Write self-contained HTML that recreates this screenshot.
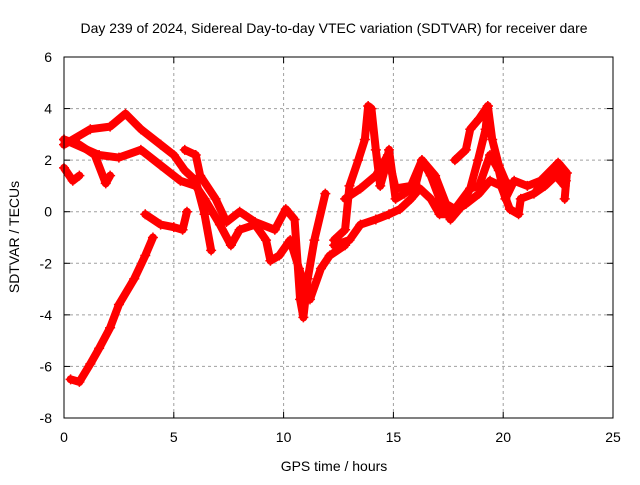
<!DOCTYPE html>
<html><head><meta charset="utf-8"><style>
body{margin:0;background:#fff}
svg text{font-family:"Liberation Sans",sans-serif;font-size:14px;fill:#000}
</style></head><body>
<svg id="chart" width="640" height="480" xmlns="http://www.w3.org/2000/svg">
<rect width="640" height="480" fill="#fff"/>
<text x="334" y="33" text-anchor="middle">Day 239 of 2024, Sidereal Day-to-day VTEC variation (SDTVAR) for receiver dare</text>
<text x="334" y="471" text-anchor="middle">GPS time / hours</text>
<text transform="translate(19,237) rotate(-90)" text-anchor="middle">SDTVAR / TECUs</text>
<g id="grid"></g><g id="series"></g><g id="ticks"></g>
<rect x="64" y="57" width="549" height="361" fill="none" stroke="#000" stroke-width="1"/>
</svg>
<script>
const xTicks=[0,5,10,15,20,25];
const yTicks=[-8,-6,-4,-2,0,2,4,6];
const trackA=[[0.3,-6.5],[0.7,-6.6],[1.2,-5.9],[1.6,-5.3],[2.1,-4.5],[2.5,-3.6],[3.2,-2.6],[3.7,-1.7],[4.05,-1.0]];
const trackB=[[3.7,-0.1],[4.4,-0.5],[5.0,-0.6],[5.4,-0.7],[5.6,0]];
const trackC=[[0,2.8],[0.7,2.6],[1.4,2.2],[1.9,1.1],[2.1,1.4]];
const trackC2=[[0,1.7],[0.4,1.2],[0.7,1.4]];
const trackD=[[0,2.6],[1.2,3.2],[2.1,3.3],[2.8,3.8],[3.5,3.2],[4.4,2.6],[5.0,2.2],[5.5,1.6],[6.0,1.2],[6.4,-0.1],[6.7,-1.5]];
const trackE=[[0,2.8],[1.6,2.2],[2.5,2.1],[3.5,2.4],[4.4,1.8],[5.3,1.2],[6.0,1.0],[6.4,0.5],[7.1,-0.5],[7.6,-1.3],[8.0,-0.7],[8.7,-0.5],[9.2,-1.1],[9.4,-1.9],[9.8,-1.7],[10.3,-1.1],[10.7,-2.2],[11.2,-3.4],[11.7,-2.2],[12.1,-1.7],[12.8,-1.3]];
const trackF=[[5.5,2.4],[6.0,2.2],[6.2,1.4],[6.9,0.5],[7.4,-0.4],[8.0,0],[8.7,-0.4],[9.6,-0.7],[10.1,0.1],[10.5,-0.3],[10.75,-3.4],[10.9,-4.1],[11.1,-2.6],[11.4,-1.1],[11.9,0.7]];
const trackG=[[12.3,-1.1],[12.8,-0.7],[13.0,1.0],[13.4,2.0],[13.7,2.8],[13.85,4.1],[14.0,4.0],[14.2,2.4],[14.4,1.0],[14.6,1.6],[14.8,2.4],[15.1,0.5],[15.5,0.7],[16.0,1.0],[16.3,2.0],[16.7,1.4],[17.1,0.5],[17.6,-0.3],[18.0,0.1],[18.5,0.9],[18.85,2.0],[19.2,3.2],[19.3,4.1],[19.5,2.8],[19.8,1.8],[20.1,1.2],[20.3,1.0]];
const trackH=[[12.3,-1.3],[13.0,-1.1],[13.5,-0.5],[14.2,-0.3],[14.8,-0.1],[15.3,0.1],[15.8,0.5],[16.2,0.9],[16.7,0.5],[17.1,-0.1],[17.6,-0.1],[18.3,0.3],[18.9,0.7],[19.4,1.2],[19.9,1.0],[20.3,0.1],[20.7,-0.1],[20.8,0.5],[21.4,0.7],[21.9,1.0],[22.4,1.4],[22.8,1.0]];
const trackI=[[12.8,0.5],[13.5,0.9],[14.2,1.4],[14.75,2.2],[15.1,0.9],[15.8,1.0],[16.3,2.0],[16.9,1.4],[17.4,0.3],[17.8,0.1],[18.5,0.9],[18.9,1.0],[19.4,2.2],[19.8,1.6],[20.1,0.5],[20.5,1.2],[21.1,1.0],[21.7,1.2],[22.4,1.8],[22.6,1.4],[22.85,1.2]];
const trackJ=[[17.8,2.0],[18.3,2.4],[18.5,3.2],[18.9,3.6],[19.3,4.1]];
const trackK=[[21.5,0.8],[22.0,1.3],[22.5,1.9],[22.9,1.5],[22.8,0.5]];
const tracks=[trackA,trackB,trackC,trackC2,trackD,trackE,trackF,trackG,trackH,trackI,trackJ,trackK];
const X0=64,X1=613,Y0=418,Y1=57;
const xs=v=>X0+(v-0)/(25-0)*(X1-X0);
const ys=v=>Y0-(v+8)/(6+8)*(Y0-Y1);
const NS="http://www.w3.org/2000/svg";
const grid=document.getElementById('grid'),ticks=document.getElementById('ticks'),ser=document.getElementById('series');
function mk(t,a,p){const e=document.createElementNS(NS,t);for(const k in a)e.setAttribute(k,a[k]);p.appendChild(e);return e;}
xTicks.forEach(t=>{const x=xs(t);
 if(t>0&&t<25){const g=mk('line',{x1:x,x2:x,y1:Y0,y2:Y1,stroke:'#a0a0a0','stroke-dasharray':'3,3'},grid);
 
 }
 mk('line',{x1:x,x2:x,y1:Y0,y2:Y0-6,stroke:'#000'},ticks);mk('line',{x1:x,x2:x,y1:Y1,y2:Y1+6,stroke:'#000'},ticks);
 const l=mk('text',{x:x,y:Y0+24,'text-anchor':'middle'},ticks);l.textContent=t;
 
 });
yTicks.forEach(t=>{const y=ys(t);
 if(t>-8&&t<6){const g=mk('line',{x1:X0,x2:X1,y1:y,y2:y,stroke:'#a0a0a0','stroke-dasharray':'3,3'},grid);
 
 }
 mk('line',{x1:X0,x2:X0+6,y1:y,y2:y,stroke:'#000'},ticks);mk('line',{x1:X1,x2:X1-6,y1:y,y2:y,stroke:'#000'},ticks);
 const l=mk('text',{x:X0-12,y:y+5,'text-anchor':'end'},ticks);l.textContent=t;
 
 });
tracks.forEach(tr=>{
 const pl=mk('polyline',{points:tr.map(p=>xs(p[0])+','+ys(p[1])).join(' '),fill:'none',stroke:'#f00','stroke-width':8,'stroke-linejoin':'round','stroke-linecap':'round'},ser);
 
 
 tr.forEach(p=>{const x=xs(p[0]),y=ys(p[1]);
  const m=mk('path',{d:`M${x-5},${y}H${x+5}M${x},${y-5}V${y+5}`,stroke:'#f00','stroke-width':1.5},ser);
  
  });
});
</script>
</body></html>
